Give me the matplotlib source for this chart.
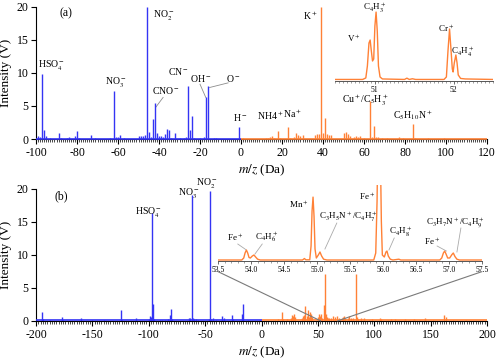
import numpy as np
import matplotlib
matplotlib.use('Agg')
import matplotlib.pyplot as plt
from matplotlib.ticker import MultipleLocator, FormatStrFormatter
from matplotlib.patches import ConnectionPatch

plt.rcParams['font.family'] = ['Liberation Serif', 'DejaVu Serif']
plt.rcParams['mathtext.fontset'] = 'stix'
plt.rcParams['axes.unicode_minus'] = False

BLUE = '#3434f4'
ORANGE = '#ff8136'

# --- panel (a): negative / positive spectra ---
neg_a_mz = [-99, -98, -97, -96, -95, -93, -89, -88, -85, -84, -81, -80, -79, -73, -71,
            -64, -62, -61, -60, -59, -57, -50, -49, -48, -47, -46, -45, -44, -43, -42,
            -41, -40, -39, -38, -37, -36, -35, -34, -32, -30, -28, -27, -26, -25, -24,
            -23, -20, -18, -17, -16, -13, -12, -1]
neg_a_int = [0.5, 0.3, 9.8, 1.4, 0.4, 0.15, 0.9, 0.2, 0.2, 0.3, 0.5, 1.2, 0.2, 0.6, 0.15,
             0.2, 7.2, 0.3, 0.3, 0.6, 0.2, 0.5, 0.5, 0.5, 0.6, 20.0, 1.0, 0.3, 3.0, 5.5,
             0.9, 0.5, 0.5, 0.3, 0.8, 1.5, 1.4, 0.2, 0.9, 0.2, 0.2, 0.3, 8.0, 1.3, 3.5,
             0.2, 0.1, 0.3, 6.4, 8.0, 0.1, 0.15, 1.8]
pos_a_mz = [1, 12, 13, 14, 15, 16, 18, 19, 23, 24, 26, 27, 28, 29, 30, 36, 37, 38, 39, 40,
            41, 42, 43, 44, 50, 51, 52, 53, 55, 56, 57, 58, 60, 63, 64, 65, 66, 67, 69, 71,
            77, 79, 84, 85, 91, 99]
pos_a_int = [0.1, 0.2, 0.2, 0.3, 0.4, 0.2, 1.2, 0.2, 1.75, 0.2, 0.3, 0.9, 0.6, 0.5, 0.6,
             0.6, 0.7, 0.8, 20.0, 0.9, 3.2, 0.8, 0.6, 0.6, 0.9, 1.0, 0.8, 0.4, 0.3, 0.4,
             0.3, 0.4, 0.2, 5.7, 0.3, 2.0, 0.3, 0.3, 0.2, 0.2, 0.3, 0.2, 2.3, 0.2, 0.15, 0.15]

# inset (a) profile, 50.5-52.5 Da
ins_a_x = [50.50, 50.85, 50.89, 50.91, 50.93, 50.945, 50.96, 50.975, 50.99, 51.005, 51.02,
           51.035, 51.05, 51.07, 51.10, 51.38, 51.41, 51.44, 51.48, 51.52, 51.88, 51.91,
           51.93, 51.95, 51.965, 51.985, 51.995, 52.01, 52.03, 52.045, 52.06, 52.09, 52.15,
           52.50]
ins_a_y = [1.5, 1.5, 3, 15, 38, 41, 30, 20, 22, 55, 69, 50, 15, 4, 2, 1.5, 2.8, 1.5, 2.2,
           1.5, 1.5, 4, 30, 52, 35, 12, 9, 18, 26, 18, 6, 2.5, 2, 1.5]

# --- panel (b) ---
neg_b_mz = [-199, -195, -194, -188, -177, -176, -160, -150, -140, -125, -124, -111, -100,
            -99, -98, -97, -96, -95, -90, -88, -86, -83, -81, -80, -79, -64, -63, -62, -61,
            -60, -58, -56, -47, -46, -45, -43, -40, -35, -33, -26, -25, -17, -16, -12, -1]
neg_b_int = [0.2, 1.3, 0.3, 0.1, 0.6, 0.1, 0.45, 0.1, 0.1, 1.6, 0.2, 0.4, 0.3, 0.8, 0.6,
             16.3, 2.5, 0.3, 0.2, 0.2, 0.2, 0.3, 0.9, 1.8, 0.3, 0.4, 0.5, 19.0, 0.4, 0.3,
             0.3, 0.2, 0.3, 19.7, 0.3, 0.4, 0.2, 0.8, 0.5, 0.9, 0.3, 1.1, 2.6, 0.1, 0.2]
pos_b_mz = [12, 15, 18, 19, 23, 24, 26, 27, 28, 29, 30, 36, 37, 38, 39, 40, 41, 42, 43, 44,
            45, 50, 51, 52, 53, 54, 55, 56, 57, 58, 59, 60, 62, 63, 65, 67, 69, 71, 72, 73,
            74, 77, 78, 79, 81, 84, 85, 86, 88, 91, 95, 98, 105, 106, 112, 115, 118, 121,
            127, 131, 135, 141, 145, 152, 162, 164, 170, 181]
pos_b_int = [0.2, 0.3, 1.3, 0.3, 0.3, 0.2, 0.5, 0.9, 0.7, 1.1, 0.6, 0.5, 0.7, 0.9, 2.3,
             0.7, 1.6, 0.6, 1.4, 1.0, 0.6, 0.6, 1.1, 0.8, 1.0, 0.5, 2.4, 7.1, 1.0, 0.6,
             0.4, 0.5, 0.5, 0.7, 0.6, 0.8, 0.5, 0.4, 0.6, 0.8, 0.5, 0.5, 0.7, 0.4, 0.4,
             7.1, 0.6, 0.3, 0.5, 0.4, 0.2, 0.3, 0.5, 0.3, 0.2, 0.3, 0.3, 0.2, 0.3, 0.2,
             0.3, 0.2, 0.4, 0.2, 0.9, 0.6, 0.1, 0.1]

# inset (b) profile, 53.5-57.5 Da
ins_b_x = [53.5, 53.86, 53.89, 53.91, 53.93, 53.95, 53.97, 53.99, 54.02, 54.045, 54.07,
           54.10, 54.14, 54.78, 54.81, 54.83, 54.89, 54.91, 54.925, 54.94, 54.955, 54.97,
           54.99, 55.02, 55.045, 55.07, 55.10, 55.15, 55.86, 55.89, 55.91, 55.92, 55.94,
           55.96, 55.975, 55.99, 56.02, 56.045, 56.06, 56.08, 56.11, 56.15, 56.24, 56.27,
           56.86, 56.89, 56.915, 56.935, 56.955, 56.98, 57.01, 57.045, 57.065, 57.09,
           57.12, 57.16, 57.5]
ins_b_y = [1, 1, 3, 8, 11, 8, 3.5, 3, 5, 6, 4, 1.8, 1, 1, 2.5, 1.2, 1.2, 15, 50, 64, 45,
           12, 3, 6, 9, 5, 1.8, 1, 1, 8, 60, 110, 120, 110, 40, 6, 4, 9, 10, 5, 1.8, 1,
           1.8, 1, 1, 3, 8, 10, 7, 3, 3, 6.5, 8, 4.5, 1.8, 1, 1]

xlim_a = (-100, 120)
xlim_b = (-200, 200)

fig = plt.figure(figsize=(5.0, 3.63), dpi=100)
ax_a = fig.add_axes([0.072, 0.617, 0.902, 0.364])
ax_b = fig.add_axes([0.072, 0.116, 0.902, 0.364])


def style_main(ax, xlim, major, minor):
    ax.set_xlim(*xlim)
    ax.set_ylim(0, 20)
    ax.spines['top'].set_visible(False)
    ax.spines['right'].set_visible(False)
    for s in ('left', 'bottom'):
        ax.spines[s].set_linewidth(0.8)
    ax.xaxis.set_major_locator(MultipleLocator(major))
    ax.xaxis.set_minor_locator(MultipleLocator(minor))
    ax.yaxis.set_major_locator(MultipleLocator(5))
    ax.tick_params(axis='both', which='major', direction='out', length=3.5, width=0.8,
                   labelsize=8.5, pad=2)
    ax.tick_params(axis='x', which='minor', direction='out', length=2.2, width=0.5)
    ax.set_xlabel(r'$m/z$ (Da)', fontsize=9.5, labelpad=3)
    ax.set_ylabel('Intensity (V)', fontsize=9.5, labelpad=3)


def draw_spec(ax, neg_mz, neg_int, pos_mz, pos_int, xlim):
    ax.vlines(neg_mz, 0, neg_int, color=BLUE, lw=1.0, zorder=3)
    ax.vlines(pos_mz, 0, pos_int, color=ORANGE, lw=1.0, zorder=3)
    ax.hlines(0.08, xlim[0], 0, color=BLUE, lw=1.2, zorder=4, clip_on=False)
    ax.hlines(0.08, 0, xlim[1], color=ORANGE, lw=1.2, zorder=4, clip_on=False)


draw_spec(ax_a, neg_a_mz, neg_a_int, pos_a_mz, pos_a_int, xlim_a)
style_main(ax_a, xlim_a, 20, 1)
draw_spec(ax_b, neg_b_mz, neg_b_int, pos_b_mz, pos_b_int, xlim_b)
style_main(ax_b, xlim_b, 50, 2)

fs = 7
ax_a.text(-85.4, 19.0, '(a)', fontsize=8.5, ha='center', va='center')
ax_a.text(-92.5, 10.2, r'HSO$_4^-$', fontsize=fs, ha='center', va='bottom')
ax_a.text(-61, 7.6, r'NO$_3^-$', fontsize=fs, ha='center', va='bottom')
ax_a.text(-43, 18.7, r'NO$_2^-$', fontsize=fs, ha='left', va='center')
ax_a.text(-36.8, 7.4, r'CNO$^-$', fontsize=fs, ha='center', va='center')
ax_a.text(-30.7, 10.2, r'CN$^-$', fontsize=fs, ha='center', va='center')
ax_a.text(-19.8, 9.1, r'OH$^-$', fontsize=fs, ha='center', va='center')
ax_a.text(-3.9, 9.1, r'O$^-$', fontsize=fs, ha='center', va='center')
ax_a.text(-0.5, 3.2, r'H$^-$', fontsize=fs, ha='center', va='center')
ax_a.text(14.3, 3.5, r'NH4$^+$', fontsize=fs, ha='center', va='center')
ax_a.text(25.0, 3.8, r'Na$^+$', fontsize=fs, ha='center', va='center')
ax_a.text(34.0, 18.6, r'K$^+$', fontsize=fs, ha='center', va='center')
ax_a.text(60.5, 5.9, r'Cu$^+$/C$_5$H$_3^+$', fontsize=fs, ha='center', va='center')
ax_a.text(83.9, 3.6, r'C$_5$H$_{10}$N$^+$', fontsize=fs, ha='center', va='center')

gray = '#8c8c8c'
for (x0, y0), (x1, y1) in [((-38.0, 6.3), (-41.6, 4.8)),
                           ((-20.0, 8.3), (-17.2, 6.3)),
                           ((-6.3, 8.5), (-15.3, 7.8))]:
    ax_a.plot([x0, x1], [y0, y1], color=gray, lw=0.6)

# inset (a)
ins_a = fig.add_axes([0.67, 0.777, 0.316, 0.198])
ins_a.plot(ins_a_x, ins_a_y, color=ORANGE, lw=1.0)
ins_a.set_xlim(50.5, 52.5)
ins_a.set_ylim(0, 72)
ins_a.xaxis.set_major_locator(MultipleLocator(1))
ins_a.xaxis.set_minor_locator(MultipleLocator(0.05))
ins_a.xaxis.set_major_formatter(FormatStrFormatter('%d'))

ins_b = fig.add_axes([0.436, 0.281, 0.528, 0.209])
ins_b.plot(ins_b_x, ins_b_y, color=ORANGE, lw=1.0)
ins_b.set_xlim(53.5, 57.5)
ins_b.set_ylim(0, 76)
ins_b.xaxis.set_major_locator(MultipleLocator(0.5))
ins_b.xaxis.set_minor_locator(MultipleLocator(0.1))
ins_b.xaxis.set_major_formatter(FormatStrFormatter('%.1f'))

for ins in (ins_a, ins_b):
    ins.patch.set_alpha(0)
    for s in ('top', 'left', 'right'):
        ins.spines[s].set_visible(False)
    ins.spines['bottom'].set_color('#555555')
    ins.spines['bottom'].set_linewidth(0.7)
    ins.set_yticks([])
    ins.tick_params(axis='x', which='major', direction='out', length=2.5, width=0.6,
                    labelsize=5.5, pad=1, color='#555555')
    ins.tick_params(axis='x', which='minor', direction='out', length=1.5, width=0.4,
                    color='#555555')

fs2 = 6.5
ins_a.text(50.74, 43, r'V$^+$', fontsize=fs2, ha='center', va='center')
ins_a.text(51.0, 73, r'C$_4$H$_3^+$', fontsize=fs2, ha='center', va='center')
ins_a.text(51.9, 53, r'Cr$^+$', fontsize=fs2, ha='center', va='center')
ins_a.text(52.12, 29, r'C$_4$H$_4^+$', fontsize=fs2, ha='center', va='center')

ax_b.text(-178, 18.9, '(b)', fontsize=8.5, ha='center', va='center')
ax_b.text(-100, 16.5, r'HSO$_4^-$', fontsize=fs, ha='center', va='center')
ax_b.text(-64.6, 19.4, r'NO$_3^-$', fontsize=fs, ha='center', va='center')
ax_b.text(-48.6, 20.9, r'NO$_2^-$', fontsize=fs, ha='center', va='center')

ins_b.text(53.76, 24, r'Fe$^+$', fontsize=fs2, ha='center', va='center')
ins_b.text(54.23, 25, r'C$_4$H$_6^+$', fontsize=fs2, ha='center', va='center')
ins_b.text(54.73, 57, r'Mn$^+$', fontsize=fs2, ha='center', va='center')
ins_b.text(55.47, 44, r'C$_3$H$_5$N$^+$/C$_4$H$_7^+$', fontsize=fs2, ha='center', va='center')
ins_b.text(55.76, 65, r'Fe$^+$', fontsize=fs2, ha='center', va='center')
ins_b.text(56.26, 29, r'C$_4$H$_8^+$', fontsize=fs2, ha='center', va='center')
ins_b.text(56.74, 20, r'Fe$^+$', fontsize=fs2, ha='center', va='center')
ins_b.text(57.1, 39, r'C$_3$H$_7$N$^+$/C$_4$H$_9^+$', fontsize=fs2, ha='center', va='center')
for (x0, y0), (x1, y1) in [((53.80, 17), (53.92, 11.5)),
                           ((54.17, 17), (54.06, 7)),
                           ((55.30, 38), (55.12, 12)),
                           ((56.17, 23), (56.09, 11)),
                           ((56.82, 15), (56.96, 10)),
                           ((57.18, 33), (57.12, 9))]:
    ins_b.plot([x0, x1], [y0, y1], color='#aaaaaa', lw=0.6)

for xa, xb in [(0.0, 52.5), (1.0, 67.5)]:
    con = ConnectionPatch(xyA=(xa, -0.14), coordsA=ins_b.transAxes,
                          xyB=(xb, 0), coordsB=ax_b.transData,
                          color='#7a7a7a', lw=0.8, zorder=5)
    fig.add_artist(con)

fig.savefig('out.png', dpi=100)
